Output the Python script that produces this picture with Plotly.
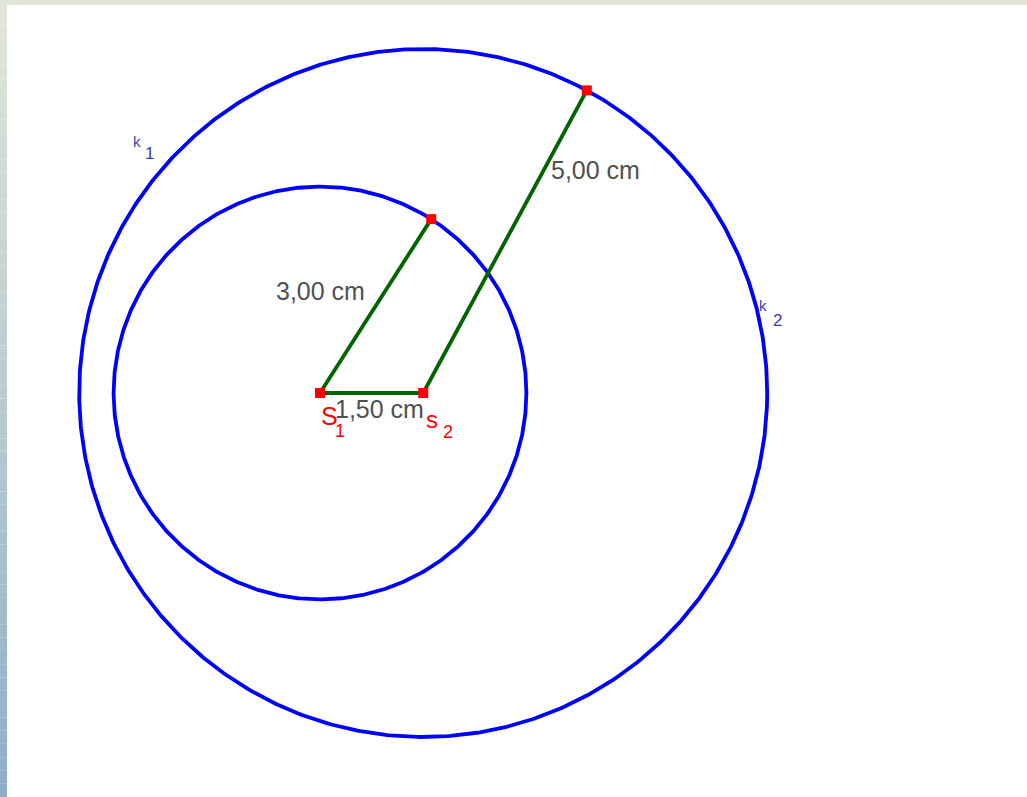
import numpy as np
import plotly.graph_objects as go

# ---- data (cm) ----
centers = {"S1": (0.0, 0.0), "S2": (1.5, 0.0)}
radii = {"k1": 5.0, "k2": 3.0}          # k1 around S2 (outer), k2 around S1 (inner)
circle_center = {"k1": "S2", "k2": "S1"}
seg_angles_deg = {"r_inner": 57.4, "r_outer": 61.6}
length_labels = ["3,00 cm", "5,00 cm", "1,50 cm"]

# ---- layout geometry ----
W, H = 1027, 797
SCALE = 68.8               # px per cm
ORIGIN_PX = (320, 393)     # pixel position of S1
xr = [-ORIGIN_PX[0] / SCALE, (W - ORIGIN_PX[0]) / SCALE]
yr = [-(H - ORIGIN_PX[1]) / SCALE, ORIGIN_PX[1] / SCALE]

BLUE = "#0000ff"
GREEN = "#006400"
RED = "#ff0000"
GRAY = "#505050"
LABEL_BLUE = "#3a3ab8"

fig = go.Figure()

t = np.linspace(0, 2 * np.pi, 721)
for name, r in radii.items():
    cx, cy = centers[circle_center[name]]
    fig.add_trace(go.Scatter(x=cx + r * np.cos(t), y=cy + r * np.sin(t), mode="lines",
                             line=dict(color=BLUE, width=3.8), hoverinfo="skip", showlegend=False))

S1 = np.array(centers["S1"])
S2 = np.array(centers["S2"])
a1 = np.radians(seg_angles_deg["r_inner"])
a2 = np.radians(seg_angles_deg["r_outer"])
P1 = S1 + radii["k2"] * np.array([np.cos(a1), np.sin(a1)])
P2 = S2 + radii["k1"] * np.array([np.cos(a2), np.sin(a2)])

segs = [(S1, P1), (S2, P2), (S1, S2)]
for A, B in segs:
    fig.add_trace(go.Scatter(x=[A[0], B[0]], y=[A[1], B[1]], mode="lines",
                             line=dict(color=GREEN, width=3.8), hoverinfo="skip", showlegend=False))

pts = [S1, S2, P1, P2]
fig.add_trace(go.Scatter(x=[p[0] for p in pts], y=[p[1] for p in pts], mode="markers",
                         marker=dict(symbol="square", size=10, color=RED, line=dict(width=0)),
                         hoverinfo="skip", showlegend=False))

font_len = dict(family="Liberation Sans, Arial, sans-serif", size=25, color=GRAY)
mid = lambda A, B: (A + B) / 2
m1, m2, m3 = mid(S1, P1), mid(S2, P2), mid(S1, S2)
ann = [
    dict(x=m1[0], y=m1[1], text=length_labels[0], xanchor="right", yanchor="middle", xshift=-9, yshift=15, font=font_len),
    dict(x=m2[0], y=m2[1], text=length_labels[1], xanchor="left", yanchor="middle", xshift=44, yshift=72, font=font_len),
    dict(x=m3[0], y=m3[1], text=length_labels[2], xanchor="center", yanchor="middle", xshift=8, yshift=-16, font=font_len),
]

# point names
fs = dict(family="Liberation Sans, Arial, sans-serif", color=RED)
ann += [
    dict(x=S1[0], y=S1[1], text="S", xshift=9, yshift=-23, font=dict(size=25, **fs)),
    dict(x=S1[0], y=S1[1], text="1", xshift=20, yshift=-38, font=dict(size=18, **fs)),
    dict(x=S2[0], y=S2[1], text="s", xshift=9, yshift=-26, font=dict(size=24, **fs)),
    dict(x=S2[0], y=S2[1], text="2", xshift=25, yshift=-39, font=dict(size=18, **fs)),
]

# circle names
fk = dict(family="Liberation Sans, Arial, sans-serif", color=LABEL_BLUE)
k1_ang = np.radians(135)
k1_pos = S2 + radii["k1"] * np.array([np.cos(k1_ang), np.sin(k1_ang)])
k2_ang = np.radians(9)
k2_pos = S2 + radii["k1"] * np.array([np.cos(k2_ang), np.sin(k2_ang)])
ann += [
    dict(x=k1_pos[0], y=k1_pos[1], text="k", xshift=-43, yshift=8, font=dict(size=15, **fk)),
    dict(x=k1_pos[0], y=k1_pos[1], text="1", xshift=-30, yshift=-4, font=dict(size=17, **fk)),
    dict(x=k2_pos[0], y=k2_pos[1], text="k", xshift=0, yshift=34, font=dict(size=15, **fk)),
    dict(x=k2_pos[0], y=k2_pos[1], text="2", xshift=15, yshift=19, font=dict(size=17, **fk)),
]
for a in ann:
    a["showarrow"] = False
    a.setdefault("xanchor", "center")
    a.setdefault("yanchor", "middle")

# frame: top strip and left gradient strip
shapes = [dict(type="rect", xref="paper", yref="paper", x0=0, x1=1, y0=1 - 5 / H, y1=1,
               fillcolor="#e1e7d8", line=dict(width=0), layer="below")]
c_top = np.array([0xE1, 0xE7, 0xD8])
c_mid = np.array([0xB9, 0xCB, 0xD0])
c_bot = np.array([0x8F, 0xAD, 0xC8])
n = 60
for i in range(n):
    f = (i + 0.5) / n
    if f < 0.5:
        c = c_top + (c_mid - c_top) * (f / 0.5)
    else:
        c = c_mid + (c_bot - c_mid) * ((f - 0.5) / 0.5)
    col = "rgb(%d,%d,%d)" % tuple(int(round(v)) for v in c)
    shapes.append(dict(type="rect", xref="paper", yref="paper", x0=0, x1=7 / W,
                       y0=1 - (i + 1) / n, y1=1 - i / n, fillcolor=col, line=dict(width=0), layer="below"))

fig.update_layout(
    width=W, height=H, margin=dict(l=0, r=0, t=0, b=0),
    paper_bgcolor="white", plot_bgcolor="white",
    xaxis=dict(range=xr, visible=False, fixedrange=True),
    yaxis=dict(range=yr, visible=False, fixedrange=True),
    annotations=ann, shapes=shapes, showlegend=False,
)
fig.write_html("out.html", config={"displayModeBar": False},
               post_script="document.body.style.margin='0';document.body.style.overflow='hidden';")
